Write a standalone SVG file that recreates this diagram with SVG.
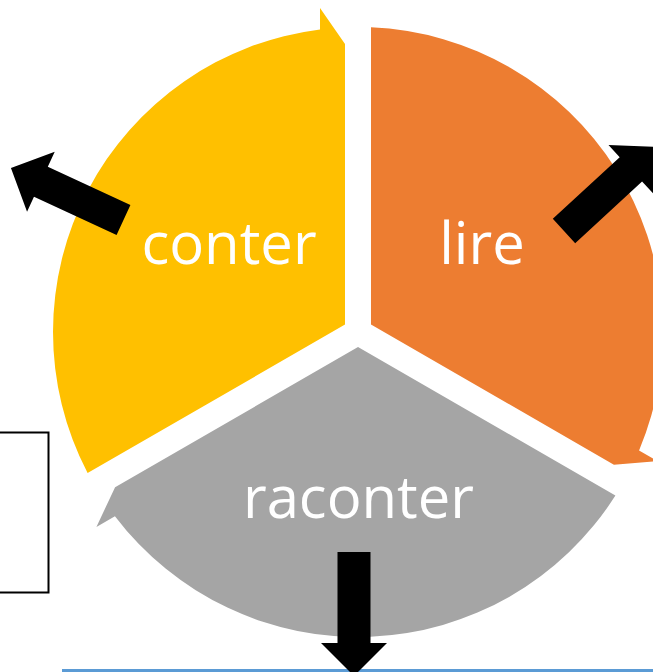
<svg xmlns="http://www.w3.org/2000/svg" xmlns:xlink="http://www.w3.org/1999/xlink" width="653" height="672" viewBox="0 0 653 672">
<style>
.lbl{font-family:"Open Sans","Liberation Sans",sans-serif;font-size:58px;fill:#ffffff;text-anchor:middle}
.arrow{fill:#000000}
</style>
<defs>
<path id="seg" d="M-270.4,141.1 A305,305 0 0 1 -38,-302.6 L-38,-324 L-13,-288 L-13,-7.5 Z"/>
<path id="arr" d="M0,-16.5 L91,-16.5 L91,-33 L124,0 L91,33 L91,16.5 L0,16.5 Z"/>
</defs>
<rect width="653" height="672" fill="#ffffff"/>
<g id="box">
<rect x="-10" y="432.5" width="58.5" height="160" fill="none" stroke="#000" stroke-width="2"/>
</g>
<g id="baseline">
<rect x="62" y="669" width="591" height="3" fill="#5B9BD5"/>
</g>
<g id="conter">
<use href="#seg" xlink:href="#seg" transform="translate(358,332)" fill="#FFC000"/>
<text class="lbl" x="229" y="264">conter</text>
</g>
<g id="lire">
<use href="#seg" xlink:href="#seg" transform="translate(358,332) rotate(120)" fill="#ED7D31"/>
<text class="lbl" x="482" y="264">lire</text>
</g>
<g id="raconter">
<use href="#seg" xlink:href="#seg" transform="translate(358,332) rotate(240)" fill="#A5A5A5"/>
<text class="lbl" x="358.5" y="518">raconter</text>
</g>
<g id="connectors">
<use class="arrow" href="#arr" xlink:href="#arr" transform="translate(123.5,220) rotate(204.8)"/>
<use class="arrow" href="#arr" xlink:href="#arr" transform="translate(564,231) rotate(-42.7)"/>
<use class="arrow" href="#arr" xlink:href="#arr" transform="translate(354,552) rotate(90)"/>
</g>
</svg>
